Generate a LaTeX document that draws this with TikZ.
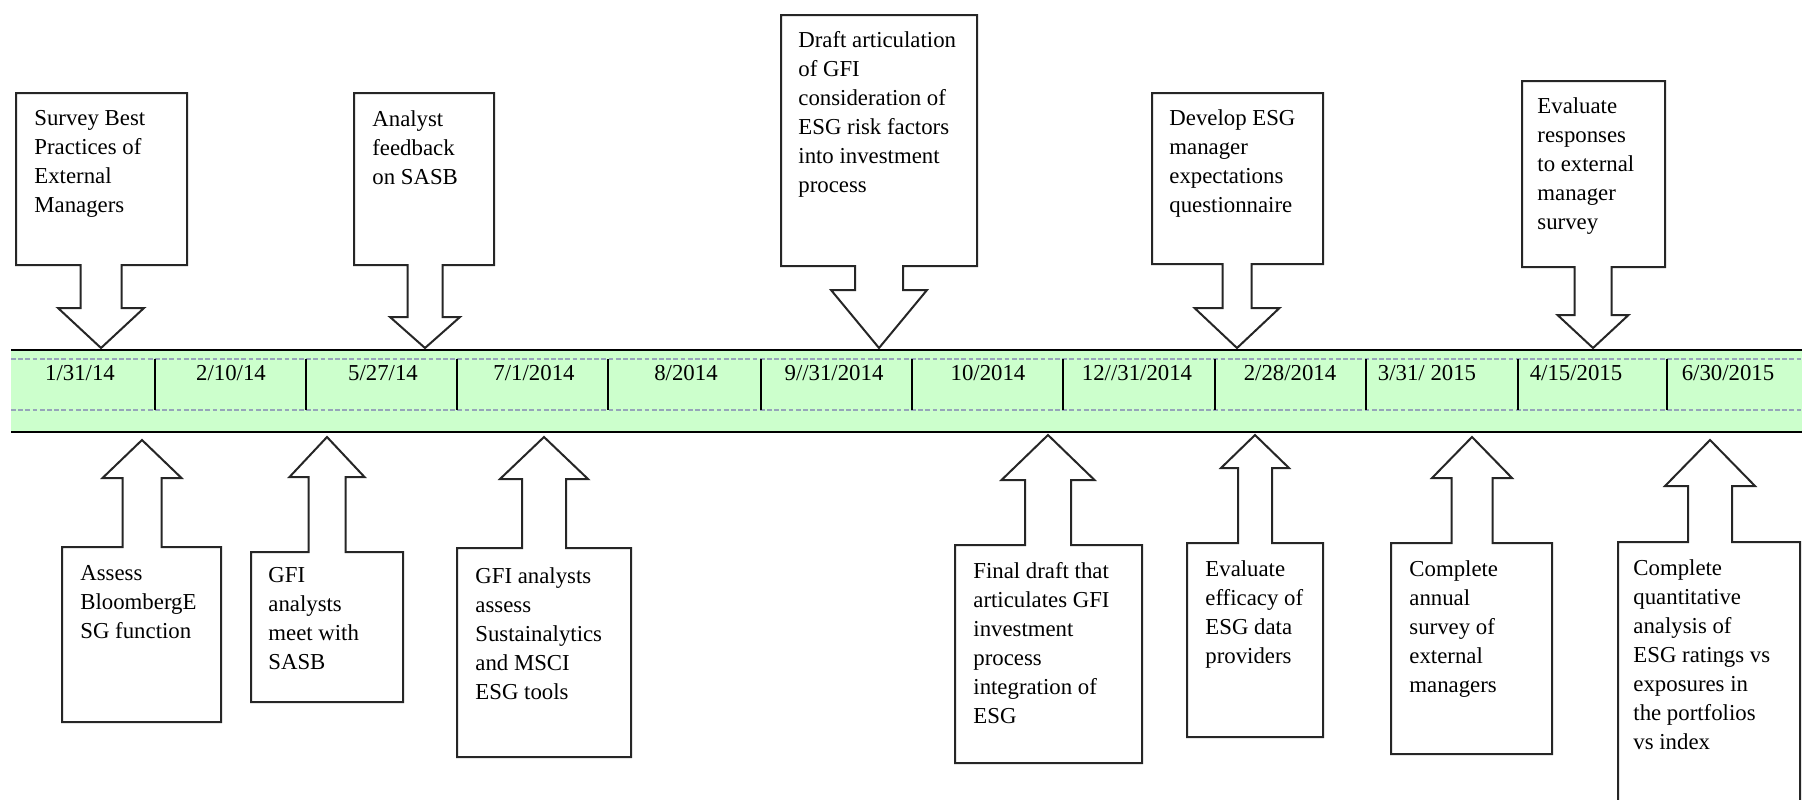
\documentclass[tikz,border=0pt]{standalone}
\usepackage{fontspec}
\setmainfont{Liberation Serif}

\definecolor{bandgreen}{RGB}{204,255,204}
\definecolor{guidegrey}{RGB}{150,165,185}

% box with a block arrow pointing at the time line
% #1 left, #2 right, #3 far edge, #4 near edge, #5 tip x,
% #6 neck y, #7 tip y, #8 shaft half width, #9 head half width
\newcommand{\timecallout}[9]{%
    \draw[callbox] (#1,#3) -- (#2,#3) -- (#2,#4) -- (#5+#8,#4) -- (#5+#8,#6)
        -- (#5+#9,#6) -- (#5,#7) -- (#5-#9,#6) -- (#5-#8,#6) -- (#5-#8,#4)
        -- (#1,#4) -- cycle;}

\begin{document}
\begin{tikzpicture}[
        x=0.5pt,
        y=-0.5pt,
        callbox/.style={
            draw=black!85,
            line width=1pt,
            fill=white,
        },
        note/.style={
            anchor=north west,
            inner sep=0pt,
            align=left,
            font=\fontsize{11.4}{14.5}\selectfont,
        },
        date/.style={
            anchor=base,
            inner sep=0pt,
            font=\fontsize{11.4}{14.5}\selectfont,
        },
        guide/.style={
            guidegrey,
            dash pattern=on 2.4pt off 1.2pt,
            line width=0.8pt,
        },
    ]

    \useasboundingbox (0,0) rectangle (1802,799);

    % time line
    \fill[bandgreen] (11,350) rectangle (1802,432);
    \draw[guide] (11,359) -- (1802,359);
    \draw[guide] (11,410) -- (1802,410);
    \draw[line width=1.2pt] (11,350) -- (1802,350);
    \draw[line width=1.2pt] (11,432) -- (1802,432);
    \foreach \x in {155,306,457,608,761,912,1063,1215,1366,1518,1667}
        \draw[line width=0.9pt] (\x,359) -- (\x,410);

    \node[date] (d1)  at (80,380)   {1/31/14};
    \node[date] (d2)  at (231,380)  {2/10/14};
    \node[date] (d3)  at (383,380)  {5/27/14};
    \node[date] (d4)  at (534,380)  {7/1/2014};
    \node[date] (d5)  at (686,380)  {8/2014};
    \node[date] (d6)  at (834,380)  {9//31/2014};
    \node[date] (d7)  at (988,380)  {10/2014};
    \node[date] (d8)  at (1137,380) {12//31/2014};
    \node[date] (d9)  at (1290,380) {2/28/2014};
    \node[date] (d10) at (1427,380) {3/31/ 2015};
    \node[date] (d11) at (1576,380) {4/15/2015};
    \node[date] (d12) at (1728,380) {6/30/2015};

    % above the line
    \timecallout{16}{187}{93}{265}{101}{308}{348}{20.5}{43}
    \timecallout{354}{494}{93}{265}{425}{317}{348}{17.5}{35}
    \timecallout{781}{977}{15}{266}{879}{290}{348}{24}{48}
    \timecallout{1152}{1323}{93}{264}{1237}{308}{348}{14.5}{42.5}
    \timecallout{1522}{1665}{81}{267}{1593}{315}{348}{18.5}{35.5}

    \node[note] (c1) at (34,110)   {Survey Best\\Practices of\\External\\Managers};
    \node[note] (c2) at (372,110)  {Analyst\\feedback\\on SASB};
    \node[note] (c3) at (798,31)   {Draft articulation\\of GFI\\consideration of\\ESG risk factors\\into investment\\process};
    \node[note] (c4) at (1169,109) {Develop ESG\\manager\\expectations\\questionnaire};
    \node[note] (c5) at (1537,97)  {Evaluate\\responses\\to external\\manager\\survey};

    % below the line
    \timecallout{62}{221}{722}{547}{142}{478}{440}{19.5}{39.5}
    \timecallout{251}{403}{702}{552}{327}{477}{437}{18.5}{37.5}
    \timecallout{457}{631}{757}{548}{544}{479}{437}{22}{44}
    \timecallout{955}{1142}{763}{545}{1048}{480}{435}{23}{46.5}
    \timecallout{1187}{1323}{737}{543}{1255}{468}{435}{17}{34}
    \timecallout{1391}{1552}{754}{543}{1472}{478}{437}{20.5}{40}
    \timecallout{1618}{1800}{830}{542}{1710}{486}{440}{22}{45}

    \node[note] (c6)  at (80,565)   {Assess\\BloombergE\\SG function};
    \node[note] (c7)  at (268,567)  {GFI\\analysts\\meet with\\SASB};
    \node[note] (c8)  at (475,567)  {GFI analysts\\assess\\Sustainalytics\\and MSCI\\ESG tools};
    \node[note] (c9)  at (973,562)  {Final draft that\\articulates GFI\\investment\\process\\integration of\\ESG};
    \node[note] (c10) at (1205,560) {Evaluate\\efficacy of\\ESG data\\providers};
    \node[note] (c11) at (1409,560) {Complete\\annual\\survey of\\external\\managers};
    \node[note] (c12) at (1633,559) {Complete\\quantitative\\analysis of\\ESG ratings vs\\exposures in\\the portfolios\\vs index};

\end{tikzpicture}
\end{document}
